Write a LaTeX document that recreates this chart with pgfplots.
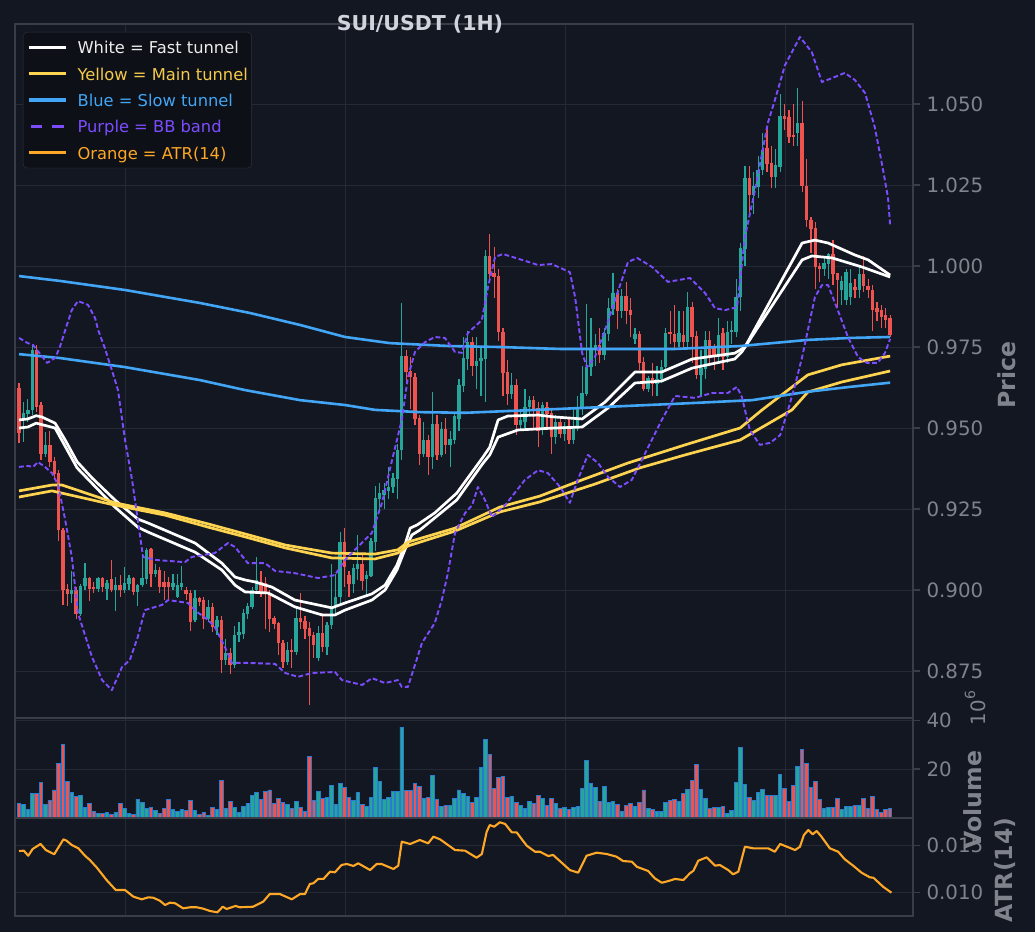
\documentclass[border=0pt]{standalone}
\usepackage{fontspec}
\setmainfont{DejaVu Sans}
\usepackage{pgfplots}
\usepackage{pgfplotstable}
\pgfplotsset{compat=1.18}
\definecolor{bg}{HTML}{131722}
\definecolor{gridc}{HTML}{252934}
\definecolor{frame}{HTML}{393D48}
\definecolor{tickc}{HTML}{80838C}
\definecolor{titlec}{HTML}{D1D4DC}
\definecolor{upc}{HTML}{26A69A}
\definecolor{dnc}{HTML}{EF5350}
\definecolor{voledge}{HTML}{2A7AD0}
\definecolor{whitec}{HTML}{FFFFFF}
\definecolor{whitet}{HTML}{ECECEC}
\definecolor{yelc}{HTML}{FDD34F}
\definecolor{yelt}{HTML}{F5C94B}
\definecolor{bluec}{HTML}{42A5F5}
\definecolor{purc}{HTML}{7C4DFF}
\definecolor{orac}{HTML}{FFA726}
\definecolor{legbg}{HTML}{0D1016}
\definecolor{legframe}{HTML}{30343E}

\pgfplotstableread{
i o h l c v
0 0.9622 0.9638 0.9453 0.9484 6.0
1 0.9530 0.9580 0.9458 0.9545 5.6
2 0.9545 0.9590 0.9520 0.9555 3.5
3 0.9555 0.9755 0.9540 0.9741 9.9
4 0.9741 0.9755 0.9550 0.9565 9.9
5 0.9570 0.9580 0.9400 0.9422 14.5
6 0.9422 0.9487 0.9410 0.9447 5.6
7 0.9447 0.9490 0.9380 0.9396 7.0
8 0.9398 0.9410 0.9340 0.9360 11.5
9 0.9360 0.9370 0.9150 0.9185 22.5
10 0.9185 0.9190 0.8955 0.9000 30.1
11 0.9002 0.9020 0.8950 0.8990 15.1
12 0.8990 0.9060 0.8960 0.9000 10.6
13 0.9000 0.9010 0.8910 0.8928 8.9
14 0.8928 0.9020 0.8920 0.9012 9.4
15 0.9012 0.9085 0.9000 0.9036 4.5
16 0.9036 0.9040 0.8965 0.9005 5.9
17 0.9010 0.9025 0.8990 0.9005 2.5
18 0.9005 0.9040 0.8995 0.9036 1.7
19 0.9036 0.9040 0.8995 0.9010 1.7
20 0.9005 0.9030 0.8970 0.9020 2.3
21 0.9033 0.9092 0.8995 0.9000 1.3
22 0.9000 0.9040 0.8935 0.9015 2.3
23 0.9015 0.9045 0.8980 0.9000 6.0
24 0.9000 0.9070 0.8990 0.9020 3.9
25 0.9020 0.9045 0.9000 0.9036 1.8
26 0.9036 0.9040 0.8985 0.8995 1.3
27 0.8995 0.9020 0.8950 0.9015 7.7
28 0.9015 0.9110 0.9010 0.9036 6.3
29 0.9036 0.9130 0.9020 0.9123 3.9
30 0.9126 0.9130 0.9010 0.9050 4.4
31 0.9050 0.9080 0.9040 0.9061 3.1
32 0.9061 0.9070 0.8990 0.9010 1.7
33 0.9025 0.9060 0.8970 0.9010 3.9
34 0.9025 0.9040 0.8969 0.9010 7.7
35 0.9010 0.9050 0.9000 0.9020 3.5
36 0.8980 0.9050 0.8975 0.9015 2.8
37 0.9010 0.9075 0.9000 0.9020 3.5
38 0.9000 0.9010 0.8970 0.8990 3.1
39 0.8990 0.9000 0.8875 0.8902 7.3
40 0.8907 0.9000 0.8900 0.8974 3.1
41 0.8974 0.8980 0.8950 0.8964 1.3
42 0.8969 0.8980 0.8880 0.8912 2.3
43 0.8912 0.8970 0.8900 0.8948 1.0
44 0.8948 0.8960 0.8870 0.8887 4.4
45 0.8887 0.8920 0.8860 0.8907 3.5
46 0.8907 0.8920 0.8745 0.8784 15.3
47 0.8784 0.8850 0.8770 0.8805 3.9
48 0.8805 0.8820 0.8740 0.8768 6.9
49 0.8768 0.8890 0.8760 0.8861 4.4
50 0.8861 0.8900 0.8840 0.8871 2.3
51 0.8866 0.8940 0.8850 0.8928 4.8
52 0.8928 0.8960 0.8910 0.8949 6.0
53 0.8949 0.9010 0.8940 0.9000 9.4
54 0.9000 0.9103 0.8990 0.9030 10.3
55 0.9025 0.9060 0.8980 0.8990 7.7
56 0.9020 0.9040 0.8880 0.8990 10.7
57 0.8990 0.9000 0.8870 0.8913 11.5
58 0.8913 0.8920 0.8880 0.8897 6.0
59 0.8897 0.8900 0.8800 0.8836 8.2
60 0.8836 0.8845 0.8760 0.8779 6.5
61 0.8779 0.8840 0.8770 0.8815 5.6
62 0.8815 0.8850 0.8760 0.8810 3.9
63 0.8810 0.8948 0.8800 0.8913 6.9
64 0.8913 0.8990 0.8880 0.8903 4.4
65 0.8903 0.8920 0.8850 0.8882 2.7
66 0.8882 0.8900 0.8645 0.8860 25.1
67 0.8860 0.8870 0.8790 0.8830 7.3
68 0.8790 0.8890 0.8780 0.8866 10.7
69 0.8866 0.8930 0.8810 0.8825 8.2
70 0.8825 0.8900 0.8800 0.8892 8.6
71 0.8892 0.9080 0.8880 0.8948 13.2
72 0.8948 0.9050 0.8920 0.8979 5.6
73 0.8979 0.9180 0.8960 0.9149 14.1
74 0.9149 0.9190 0.9010 0.9072 12.4
75 0.9046 0.9060 0.8980 0.9020 8.4
76 0.9020 0.9080 0.8990 0.9066 7.0
77 0.9066 0.9170 0.9030 0.9081 10.3
78 0.9081 0.9110 0.9000 0.9030 5.6
79 0.9035 0.9060 0.8980 0.9045 4.8
80 0.9045 0.9160 0.9040 0.9149 8.6
81 0.9149 0.9320 0.9120 0.9283 20.8
82 0.9283 0.9330 0.9240 0.9300 14.9
83 0.9293 0.9330 0.9250 0.9308 7.7
84 0.9308 0.9380 0.9280 0.9318 8.6
85 0.9318 0.9360 0.9300 0.9344 10.7
86 0.9344 0.9450 0.9280 0.9432 10.7
87 0.9432 0.9885 0.9400 0.9720 37.3
88 0.9720 0.9740 0.9640 0.9674 11.1
89 0.9674 0.9720 0.9560 0.9658 11.1
90 0.9658 0.9670 0.9510 0.9530 14.1
91 0.9530 0.9540 0.9385 0.9422 12.8
92 0.9422 0.9520 0.9410 0.9463 8.2
93 0.9463 0.9480 0.9355 0.9410 8.6
94 0.9410 0.9610 0.9375 0.9512 17.5
95 0.9512 0.9540 0.9400 0.9417 7.7
96 0.9417 0.9520 0.9410 0.9496 4.8
97 0.9496 0.9530 0.9420 0.9448 5.2
98 0.9448 0.9490 0.9380 0.9465 5.2
99 0.9465 0.9550 0.9450 0.9535 8.2
100 0.9530 0.9650 0.9490 0.9633 11.5
101 0.9630 0.9780 0.9610 0.9715 9.9
102 0.9715 0.9800 0.9680 0.9766 9.0
103 0.9766 0.9780 0.9660 0.9691 6.5
104 0.9691 0.9780 0.9620 0.9707 8.6
105 0.9707 0.9750 0.9600 0.9715 20.8
106 0.9715 1.0050 0.9580 1.0031 32.2
107 1.0031 1.0100 0.9960 0.9977 25.9
108 0.9977 1.0060 0.9900 0.9967 12.0
109 0.9967 0.9990 0.9770 0.9797 16.6
110 0.9797 0.9810 0.9600 0.9671 17.0
111 0.9671 0.9710 0.9570 0.9607 8.6
112 0.9607 0.9670 0.9590 0.9633 9.0
113 0.9633 0.9650 0.9480 0.9509 6.5
114 0.9509 0.9560 0.9490 0.9525 5.2
115 0.9519 0.9620 0.9500 0.9565 3.9
116 0.9565 0.9600 0.9540 0.9586 6.9
117 0.9586 0.9600 0.9500 0.9555 6.0
118 0.9560 0.9580 0.9440 0.9493 9.4
119 0.9498 0.9580 0.9480 0.9570 8.2
120 0.9565 0.9580 0.9500 0.9545 5.2
121 0.9545 0.9560 0.9420 0.9473 8.2
122 0.9473 0.9540 0.9450 0.9519 6.0
123 0.9519 0.9530 0.9470 0.9483 3.9
124 0.9483 0.9520 0.9460 0.9504 4.4
125 0.9504 0.9530 0.9450 0.9463 3.5
126 0.9463 0.9560 0.9450 0.9504 4.4
127 0.9504 0.9600 0.9490 0.9560 4.8
128 0.9560 0.9690 0.9540 0.9607 12.0
129 0.9607 0.9882 0.9600 0.9689 23.4
130 0.9689 0.9840 0.9660 0.9741 14.1
131 0.9741 0.9790 0.9690 0.9756 12.4
132 0.9756 0.9810 0.9700 0.9725 6.9
133 0.9725 0.9810 0.9710 0.9792 12.8
134 0.9792 0.9900 0.9770 0.9869 6.5
135 0.9869 0.9978 0.9850 0.9916 6.9
136 0.9916 0.9930 0.9805 0.9862 5.6
137 0.9862 0.9930 0.9840 0.9907 2.7
138 0.9907 0.9950 0.9820 0.9862 5.2
139 0.9862 0.9900 0.9780 0.9849 6.0
140 0.9777 0.9810 0.9760 0.9790 4.8
141 0.9790 0.9800 0.9680 0.9702 6.5
142 0.9702 0.9720 0.9615 0.9622 11.5
143 0.9622 0.9660 0.9610 0.9653 3.9
144 0.9653 0.9700 0.9600 0.9637 3.5
145 0.9637 0.9690 0.9600 0.9652 2.7
146 0.9652 0.9710 0.9640 0.9689 2.7
147 0.9689 0.9810 0.9680 0.9792 6.5
148 0.9795 0.9860 0.9760 0.9790 7.3
149 0.9790 0.9880 0.9740 0.9766 7.7
150 0.9766 0.9860 0.9750 0.9792 6.9
151 0.9787 0.9860 0.9740 0.9766 9.9
152 0.9766 0.9920 0.9740 0.9874 11.8
153 0.9874 0.9890 0.9700 0.9782 15.5
154 0.9782 0.9800 0.9650 0.9664 21.8
155 0.9664 0.9740 0.9600 0.9684 11.8
156 0.9684 0.9800 0.9650 0.9771 8.0
157 0.9771 0.9800 0.9700 0.9720 3.8
158 0.9745 0.9760 0.9680 0.9720 4.2
159 0.9720 0.9840 0.9700 0.9787 4.5
160 0.9792 0.9810 0.9680 0.9720 4.9
161 0.9720 0.9830 0.9700 0.9797 1.7
162 0.9797 0.9830 0.9760 0.9802 3.1
163 0.9797 0.9960 0.9780 0.9905 14.7
164 0.9905 1.0070 0.9860 1.0054 29.0
165 1.0054 1.0310 1.0000 1.0271 13.9
166 1.0271 1.0310 1.0150 1.0219 8.4
167 1.0219 1.0290 1.0160 1.0245 7.3
168 1.0245 1.0340 1.0210 1.0296 10.5
169 1.0296 1.0410 1.0280 1.0358 11.8
170 1.0363 1.0430 1.0290 1.0317 9.1
171 1.0317 1.0370 1.0240 1.0276 9.1
172 1.0276 1.0360 1.0240 1.0312 9.1
173 1.0306 1.0530 1.0290 1.0463 17.7
174 1.0463 1.0500 1.0420 1.0456 12.2
175 1.0459 1.0480 1.0380 1.0399 6.7
176 1.0404 1.0500 1.0370 1.0399 13.2
177 1.0411 1.0550 1.0370 1.0442 21.0
178 1.0442 1.0510 1.0230 1.0247 28.1
179 1.0247 1.0330 1.0120 1.0142 22.3
180 1.0140 1.0150 1.0040 1.0116 12.6
181 1.0116 1.0135 0.9930 0.9998 15.1
182 0.9998 1.0010 0.9950 0.9991 7.6
183 0.9993 1.0030 0.9970 1.0008 3.8
184 1.0008 1.0040 0.9960 1.0037 4.2
185 1.0037 1.0080 0.9940 0.9977 4.2
186 0.9977 0.9980 0.9870 0.9957 8.0
187 0.9928 0.9970 0.9880 0.9953 3.4
188 0.9895 0.9990 0.9880 0.9982 4.9
189 0.9905 0.9990 0.9880 0.9946 4.9
190 0.9936 0.9960 0.9900 0.9926 5.3
191 0.9926 1.0000 0.9900 0.9974 5.3
192 0.9974 1.0030 0.9920 0.9938 8.0
193 0.9938 0.9960 0.9900 0.9926 3.9
194 0.9926 0.9940 0.9800 0.9864 8.7
195 0.9869 0.9890 0.9830 0.9859 3.6
196 0.9864 0.9880 0.9810 0.9843 2.1
197 0.9848 0.9870 0.9810 0.9833 3.5
198 0.9838 0.9850 0.9780 0.9787 3.8
}\candles

\pgfplotsset{
  panel/.style={
    scale only axis, width=898pt, xmin=-0.91, xmax=203.2,
    anchor=south west,
    axis line style={draw=frame, line width=2.5pt},
    xtick={24.1,74.1,124.1,174.3}, xticklabels={}, xmajorticks=false,
    xmajorgrids=true, ymajorgrids=true,
    major grid style={draw=gridc, line width=1pt},
    ytick pos=right, yticklabel pos=right,
    tick align=outside, major tick length=7pt,
    every tick/.style={draw=frame, line width=1.5pt},
    yticklabel style={font=\fontsize{19.8}{22}\selectfont, text=tickc, anchor=west, xshift=3pt},
    /pgf/number format/assume math mode=true,
    scaled y ticks=false,
  },
  wick/.style={forget plot, draw=none, mark=none,
    error bars/y dir=both, error bars/y explicit, error bars/error mark=none,
    error bars/error bar style={draw=#1, line width=1.2pt}},
  body/.style={forget plot, draw=none, mark=none,
    error bars/y dir=both, error bars/y explicit, error bars/error mark=none,
    error bars/error bar style={draw=#1, line width=3.4pt}},
}

\begin{document}
\begin{tikzpicture}[x=1pt,y=1pt]
\fill[bg] (0,0) rectangle (1035,932);
\useasboundingbox (0,0) rectangle (1035,932);

% ---------------- Price panel ----------------
\begin{axis}[panel, at={(15pt,214pt)}, height=694pt,
  ymin=0.8605, ymax=1.0747,
  ytick={0.875,0.9,0.925,0.95,0.975,1,1.025,1.05},
  yticklabel style={/pgf/number format/.cd, fixed, fixed zerofill, precision=3},
  legend cell align=left,
  legend style={at={(0.0089,0.9885)}, anchor=north west, fill=legbg, draw=legframe,
    rounded corners=4pt, inner xsep=3.8pt, inner ysep=8.8pt,
    row sep=13.3pt, column sep=10.3pt,
    nodes={inner sep=0pt, text height=13pt, text depth=0pt, font=\fontsize{16.3}{16}\selectfont}},
]
% candles: wicks and bodies
\addplot[restrict expr to domain={\thisrow{c}-\thisrow{o}}{0:1}, wick=upc]
  table[x=i, y expr={(\thisrow{h}+\thisrow{l})/2}, y error expr={(\thisrow{h}-\thisrow{l})/2}] {\candles};
\addplot[restrict expr to domain={\thisrow{c}-\thisrow{o}}{-1:0}, wick=dnc]
  table[x=i, y expr={(\thisrow{h}+\thisrow{l})/2}, y error expr={(\thisrow{h}-\thisrow{l})/2}] {\candles};
\addplot[restrict expr to domain={\thisrow{c}-\thisrow{o}}{0:1}, body=upc]
  table[x=i, y expr={(\thisrow{o}+\thisrow{c})/2}, y error expr={abs(\thisrow{c}-\thisrow{o})/2+0.00008}] {\candles};
\addplot[restrict expr to domain={\thisrow{c}-\thisrow{o}}{-1:0}, body=dnc]
  table[x=i, y expr={(\thisrow{o}+\thisrow{c})/2}, y error expr={abs(\thisrow{c}-\thisrow{o})/2+0.00008}] {\candles};

% White = fast tunnel
\addplot[forget plot, whitec, line width=2.7pt, line join=round] coordinates {
(0,0.9525) (2,0.9528) (3.9,0.9538) (5.2,0.9534) (8.2,0.9515) (10.5,0.9463) (13.2,0.9396)
(16.6,0.9346) (21.8,0.9278) (27,0.9219) (29.3,0.9207) (40,0.9145) (46.1,0.9083) (49.1,0.9040)
(51.4,0.9031) (53.6,0.9025) (57.5,0.9009) (62.7,0.8969) (71.1,0.8945) (74.1,0.8960)
(80.2,0.8988) (83.2,0.9015) (85.9,0.9077) (87.7,0.9139) (88.9,0.9191) (90.5,0.9201)
(94.5,0.9238) (99.5,0.9299) (105.5,0.9411) (107,0.9441) (108.9,0.9525) (111.1,0.9537)
(118,0.9540) (121.8,0.9534) (128,0.9528) (133.2,0.9580) (140,0.9673) (146.1,0.9673)
(153,0.9713) (162.7,0.9731) (165,0.9750) (178,1.0071) (180.9,1.0080) (183.9,1.0071)
(190,1.0034) (193,1.0019) (198,0.9972)};
\addplot[forget plot, whitec, line width=2.7pt, line join=round] coordinates {
(0,0.9500) (2,0.9503) (3.9,0.9515) (8.2,0.9500) (13.2,0.9377) (21.8,0.9256) (27,0.9194)
(29.3,0.9179) (40,0.9117) (46.1,0.9062) (49.1,0.9015) (51.4,0.8994) (56.6,0.8991)
(62.7,0.8948) (68.9,0.8923) (71.8,0.8923) (74.1,0.8938) (80.2,0.8969) (83.2,0.9000)
(85.9,0.9062) (87.7,0.9124) (89.3,0.9170) (91.1,0.9185) (99.5,0.9278) (105.5,0.9392)
(107,0.9417) (108.9,0.9472) (113.4,0.9494) (121.8,0.9500) (128,0.9503) (133.9,0.9562)
(140,0.9639) (146.1,0.9645) (153,0.9685) (162.7,0.9713) (164.3,0.9735) (178,1.0019)
(180.2,1.0031) (184.8,1.0025) (191.6,0.9997) (198,0.9966)};

% Yellow = main tunnel
\addplot[forget plot, yelc, line width=2.7pt, line join=round] coordinates {
(0,0.9306) (7.5,0.9324) (9.8,0.9324) (21.8,0.9269) (33.2,0.9238) (43,0.9204) (51.4,0.9173)
(60.5,0.9139) (71.1,0.9114) (80.9,0.9111) (86.1,0.9124) (88.4,0.9148) (99.1,0.9191)
(109.3,0.9256) (118.4,0.9290) (128,0.9340) (138.4,0.9392) (151.4,0.9448) (163.9,0.9500)
(168.9,0.9556) (179.3,0.9664) (187,0.9695) (198,0.9722)};
\addplot[forget plot, yelc, line width=2.7pt, line join=round] coordinates {
(0,0.9287) (7.5,0.9306) (21.8,0.9262) (33.2,0.9231) (43,0.9194) (51.4,0.9164) (60.5,0.9130)
(71.1,0.9099) (80.9,0.9096) (86.1,0.9114) (88.4,0.9136) (99.1,0.9182) (109.3,0.9241)
(118.4,0.9272) (130.9,0.9327) (141.1,0.9377) (151.4,0.9417) (163.9,0.9463) (175.7,0.9556)
(179.3,0.9611) (187,0.9642) (198,0.9676)};

% Blue = slow tunnel
\addplot[forget plot, bluec, line width=2.6pt, line join=round] coordinates {
(0,0.9969) (9.3,0.9954) (24.1,0.9926) (41.1,0.9886) (52.5,0.9855) (63.9,0.9818) (74.1,0.9781)
(84.3,0.9762) (98,0.9753) (109.3,0.9750) (123,0.9744) (136.6,0.9744) (149.1,0.9744)
(163.9,0.9753) (179.3,0.9772) (188.9,0.9778) (198,0.9781)};
\addplot[forget plot, bluec, line width=2.6pt, line join=round] coordinates {
(0,0.9728) (9.3,0.9716) (24.1,0.9688) (41.1,0.9648) (51.4,0.9617) (63.9,0.9586) (74.1,0.9571)
(80.9,0.9556) (91.1,0.9549) (101.4,0.9547) (123,0.9559) (151.4,0.9576) (166.6,0.9586)
(179.3,0.9612) (188.9,0.9627) (198,0.9640)};

% Purple = BB band
\addplot[forget plot, purc, line width=1.9pt, dash pattern=on 4.8pt off 2.6pt, line join=round] coordinates {
(0,0.9778) (2,0.9762) (3.2,0.9756) (6.4,0.9701) (8.2,0.9716) (9.3,0.9750) (10.5,0.9802)
(12,0.9864) (13.4,0.9892) (15.7,0.9880) (17.3,0.9839) (18,0.9802) (19.5,0.9747) (21.1,0.9679)
(22.5,0.9617) (24.1,0.9463) (25.7,0.9340) (27,0.9216) (28.2,0.9102) (30.9,0.9093)
(37.7,0.9086) (39.3,0.9102) (44.5,0.9114) (47.5,0.9145) (49.1,0.9133) (52,0.9083)
(55.9,0.9083) (58.2,0.9059) (62.7,0.9052) (68,0.9037) (71.8,0.9046) (74.1,0.9093)
(77,0.9133) (80.2,0.9176) (82.5,0.9269) (84.8,0.9401) (87,0.9525) (88.4,0.9657) (90,0.9735)
(92.3,0.9765) (94.5,0.9781) (96.8,0.9778) (99.1,0.9735) (100.7,0.9732) (102,0.9793)
(105.2,0.9833) (106.6,0.9935) (108.2,1.0028) (110,1.0037) (114.3,1.0019) (118,1.0003)
(121.1,1.0006) (125.2,0.9981) (126.4,0.9904) (128,0.9731) (129.1,0.9688) (130.9,0.9719)
(133.2,0.9802) (136.1,0.9920) (138.4,1.0012) (140.5,1.0025) (143.9,0.9997) (147.5,0.9951)
(152.5,0.9963) (155.9,0.9917) (158.2,0.9870) (160.5,0.9864) (163.2,0.9873) (163.9,0.9957)
(165,1.0090) (167.3,1.0235) (170.2,1.0441) (171.8,1.0512) (174.1,1.0620) (177.5,1.0707)
(180.2,1.0660) (182.5,1.0568) (184.8,1.0580) (187.7,1.0596) (190,1.0574) (192.3,1.0534)
(194.5,1.0429) (196.1,1.0318) (197.5,1.0213) (198,1.0127)};
\addplot[forget plot, purc, line width=1.9pt, dash pattern=on 4.8pt off 2.6pt, line join=round] coordinates {
(0,0.9380) (2,0.9383) (3.2,0.9380) (4.3,0.9395) (5.9,0.9380) (7.5,0.9361) (8.9,0.9324)
(10.5,0.9216) (12,0.9102) (13.4,0.8929) (16.6,0.8793) (18.9,0.8722) (21.1,0.8691)
(23.4,0.8762) (25.2,0.8784) (27,0.8855) (28.6,0.8938) (32.5,0.8954) (33.9,0.8969)
(37,0.8963) (38.4,0.8960) (40.5,0.8932) (43,0.8907) (44.5,0.8886) (46.8,0.8824)
(48.4,0.8775) (52,0.8775) (58.2,0.8772) (60.5,0.8744) (63.4,0.8732) (66.6,0.8744)
(71.8,0.8747) (73.4,0.8722) (78,0.8707) (80.2,0.8728) (83.2,0.8713) (86.1,0.8722)
(87,0.8701) (88.4,0.8701) (91.6,0.8837) (94.5,0.8898) (96.1,0.8969) (97.5,0.9053)
(99.1,0.9176) (101.4,0.9238) (103,0.9262) (104.3,0.9318) (105.9,0.9278) (107.5,0.9225)
(110.5,0.9262) (115,0.9340) (118,0.9370) (120.2,0.9361) (123,0.9318) (125.2,0.9269)
(127,0.9340) (129.3,0.9417) (131.6,0.9392) (133.9,0.9349) (136.6,0.9318) (139.3,0.9340)
(143,0.9441) (146.1,0.9525) (149.1,0.9599) (153.6,0.9593) (157.5,0.9608) (161.1,0.9608)
(163.2,0.9627) (164.3,0.9596) (165,0.9556) (166.1,0.9494) (168.4,0.9448) (170.7,0.9454)
(173,0.9478) (174.8,0.9556) (176.4,0.9633) (178,0.9719) (180.9,0.9904) (182.5,0.9941)
(183.9,0.9941) (186.1,0.9864) (188.4,0.9781) (190.7,0.9719) (192.7,0.9701) (195.2,0.9701)
(196.8,0.9731) (198,0.9775)};

% legend
\addlegendimage{legend image code/.code={\draw[whitec, line width=3.3pt] (0pt,0pt) -- (37pt,0pt);}}
\addlegendentry{\textcolor{whitet}{White = Fast tunnel}}
\addlegendimage{legend image code/.code={\draw[yelc, line width=3.3pt] (0pt,0pt) -- (37pt,0pt);}}
\addlegendentry{\textcolor{yelt}{Yellow = Main tunnel}}
\addlegendimage{legend image code/.code={\draw[bluec, line width=3.3pt] (0pt,0pt) -- (37pt,0pt);}}
\addlegendentry{\textcolor{bluec}{Blue = Slow tunnel}}
\addlegendimage{legend image code/.code={\draw[purc, line width=3.3pt, dash pattern=on 11.7pt off 9.9pt, dash phase=-2pt] (0pt,0pt) -- (35.3pt,0pt);
  \path (37pt,0pt);}}
\addlegendentry{\textcolor{purc}{Purple = BB band}}
\addlegendimage{legend image code/.code={\draw[orac, line width=3.3pt] (0pt,0pt) -- (37pt,0pt);}}
\addlegendentry{\textcolor{orac}{Orange = ATR(14)}}
\end{axis}

% ---------------- Volume panel ----------------
\begin{axis}[panel, at={(15pt,114pt)}, height=100pt,
  ymin=0, ymax=41, ytick={20,40},
]
\addplot[forget plot, ybar, bar width=0.82, bar shift=0pt, fill=upc, draw=voledge, line width=0.9pt,
  restrict expr to domain={\thisrow{c}-\thisrow{o}}{0:1}] table[x=i, y=v] {\candles};
\addplot[forget plot, ybar, bar width=0.82, bar shift=0pt, fill=dnc, draw=voledge, line width=0.9pt,
  restrict expr to domain={\thisrow{c}-\thisrow{o}}{-1:0}] table[x=i, y=v] {\candles};
\end{axis}

% ---------------- ATR panel ----------------
\begin{axis}[panel, at={(15pt,16pt)}, height=98pt,
  ymin=0.00754, ymax=0.01788, ytick={0.010,0.015},
  yticklabel style={/pgf/number format/.cd, fixed, fixed zerofill, precision=3},
]
\addplot[forget plot, orac, line width=2.1pt, line join=round] coordinates {
(0,0.01440) (1.1,0.01443) (2.1,0.01390) (3.1,0.01461) (4.9,0.01514) (6.1,0.01450) (8.0,0.01405)
(10.1,0.01563) (10.8,0.01549) (12.0,0.01503) (13.5,0.01468) (15,0.01390) (16.1,0.01345)
(17.7,0.01264) (19.9,0.01134) (22,0.01028) (24.1,0.01028) (26,0.00958) (27.9,0.00930)
(29.4,0.00951) (30.5,0.00947) (32,0.00916) (33.2,0.00870) (34.3,0.00895) (35.5,0.00888)
(37.3,0.00835) (38.9,0.00846) (40.4,0.00846) (41.9,0.00831) (43.4,0.00807) (45.1,0.00793)
(46.3,0.00852) (47.2,0.00828) (49.2,0.00860) (50.2,0.00846) (53.2,0.00852) (55.5,0.00905)
(57,0.00986) (59.3,0.00986) (62,0.00930) (63.9,0.00986) (65,0.00986) (66.1,0.01092)
(66.9,0.01099) (68,0.01145) (69.2,0.01145) (70.7,0.01222) (71.8,0.01215) (73.3,0.01292)
(74.5,0.01303) (76,0.01282) (77.1,0.01310) (79.8,0.01239) (81.3,0.01303) (82.4,0.01303)
(85.1,0.01250) (86.2,0.01285) (87,0.01538) (88.9,0.01514) (91.1,0.01556) (93,0.01521)
(94.2,0.01591) (95.7,0.01563) (99.1,0.01450) (101.4,0.01443) (104,0.01369) (105.2,0.01408)
(106.3,0.01643) (107,0.01714) (108,0.01696) (109.3,0.01743) (110.5,0.01725) (112,0.01637)
(113.1,0.01637) (115.4,0.01496) (117.3,0.01432) (118.4,0.01432) (120.3,0.01387)
(121.4,0.01398) (125.2,0.01239) (127.1,0.01211) (129,0.01390) (131.3,0.01422)
(133.6,0.01408) (135.8,0.01380) (137.3,0.01334) (139.3,0.01327) (140.4,0.01274)
(143,0.01229) (144.5,0.01152) (146.1,0.01105) (147.6,0.01123) (149.1,0.01145) (151,0.01134)
(152.5,0.01205) (153.3,0.01232) (154.4,0.01338) (156.3,0.01373) (158.2,0.01285)
(159.3,0.01292) (161.2,0.01239) (162.3,0.01194) (163.5,0.01222) (165,0.01485)
(166.9,0.01468) (170.3,0.01468) (171.8,0.01432) (173,0.01514) (176.4,0.01450)
(177.5,0.01485) (178.4,0.01609) (179.4,0.01661) (180.4,0.01616) (181.3,0.01651)
(182.4,0.01591) (184.3,0.01468) (186.2,0.01432) (187.7,0.01352) (189.6,0.01285)
(191.5,0.01211) (193.4,0.01162) (194.2,0.01158) (196.4,0.01063) (198.3,0.01000)};
\end{axis}

% ---------------- texts ----------------
\node[anchor=base, font=\bfseries\fontsize{20.5}{22}\selectfont, text=titlec, inner sep=0pt] at (420,901) {SUI/USDT (1H)};
\node[rotate=90, font=\bfseries\fontsize{23.6}{24}\selectfont, text=tickc] at (1007,557) {Price};
\node[rotate=90, font=\bfseries\fontsize{23.6}{24}\selectfont, text=tickc] at (973,132) {Volume};
\node[rotate=90, font=\bfseries\fontsize{23.6}{24}\selectfont, text=tickc] at (1005,62) {ATR(14)};
\node[rotate=90, font=\fontsize{19.8}{22}\selectfont, text=tickc] at (975,224) {10\raisebox{0.5em}{\fontsize{14}{14}\selectfont 6}};
\end{tikzpicture}
\end{document}
